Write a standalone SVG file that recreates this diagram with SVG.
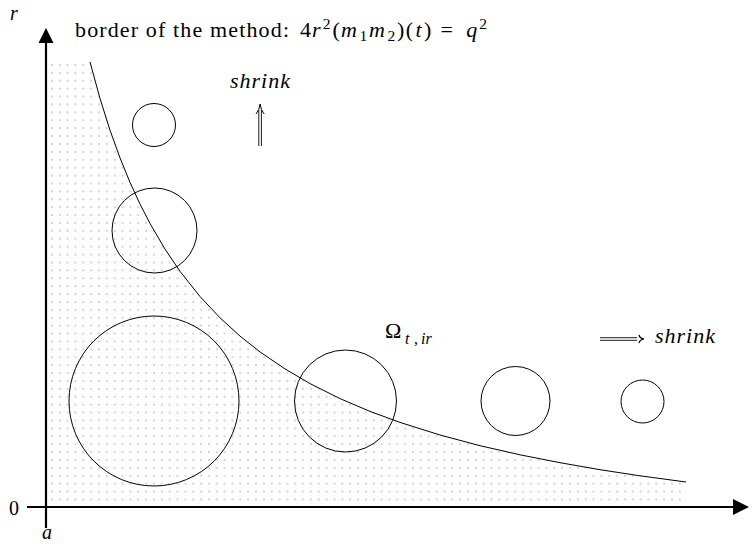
<svg xmlns="http://www.w3.org/2000/svg" width="756" height="544" viewBox="0 0 756 544">
<style>
.t{font-family:"Liberation Serif","Times New Roman",serif;fill:#000}
.i{font-style:italic}
.m{font-size:22px}
.s{font-size:15.5px}
.c{fill:none;stroke:#000;stroke-width:1}
.ax{stroke:#000;stroke-width:2.2;fill:none}
</style>
<defs>
<pattern id="dots" patternUnits="userSpaceOnUse" x="48" y="61" width="7.85" height="7.9">
<circle cx="3.9" cy="3.9" r="1" fill="#c8c8c8"/>
</pattern>
</defs>
<rect width="756" height="544" fill="#fff"/>
<g id="region">
<path fill="url(#dots)" d="M49,61 L90,62 L100,98.5 L110,130.2 L120,157.9 L130,182.4 L140,204.1 L150,223.5 L165,249.1 L180,271.3 L200,296.5 L220,317.8 L240,336.1 L260,351.9 L285,368.9 L310,383.6 L340,398.6 L370,411.4 L400,422.4 L440,435 L480,445.7 L520,454.8 L560,462.7 L600,469.7 L640,475.8 L686,482 L686,504 L49,504 Z"/>
</g>
<g id="connectors">
<path id="border" class="c" stroke-linejoin="round" d="M90,62 L100,98.5 L110,130.2 L120,157.9 L130,182.4 L140,204.1 L150,223.5 L165,249.1 L180,271.3 L200,296.5 L220,317.8 L240,336.1 L260,351.9 L285,368.9 L310,383.6 L340,398.6 L370,411.4 L400,422.4 L440,435 L480,445.7 L520,454.8 L560,462.7 L600,469.7 L640,475.8 L686,482"/>
</g>
<g id="axes">
<line class="ax" x1="46" y1="528" x2="46" y2="42"/>
<polygon points="46,28 38.5,43 53.5,43" fill="#000"/>
<line class="ax" x1="27" y1="507" x2="734" y2="507"/>
<polygon points="749,507 733,499 733,515" fill="#000"/>
</g>
<g id="circles">
<circle id="c1" class="c" cx="154" cy="125" r="21.5"/>
<circle id="c2" class="c" cx="154.5" cy="230.5" r="42.5"/>
<circle id="c3" class="c" cx="154" cy="401" r="85"/>
<circle id="c4" class="c" cx="345.5" cy="401" r="51"/>
<circle id="c5" class="c" cx="515.5" cy="401" r="34.5"/>
<circle id="c6" class="c" cx="642.5" cy="401.5" r="21.5"/>
</g>
<g id="arrow-up">
<line x1="258.8" y1="146" x2="258.8" y2="110" stroke="#000" stroke-width="0.9"/>
<line x1="261.4" y1="146" x2="261.4" y2="110" stroke="#000" stroke-width="0.9"/>
<path d="M256,114 Q259.5,110 260.1,104 Q260.7,110 264.2,114" fill="none" stroke="#000" stroke-width="1"/>
</g>
<g id="arrow-right">
<line x1="600" y1="337.7" x2="637" y2="337.7" stroke="#000" stroke-width="0.9"/>
<line x1="600" y1="340.3" x2="637" y2="340.3" stroke="#000" stroke-width="0.9"/>
<path d="M639,335 Q639.8,338.4 644,339 Q639.8,339.6 639,343" fill="none" stroke="#000" stroke-width="1.2"/>
</g>
<g id="labels">
<text class="t i" x="10" y="20" font-size="20">r</text>
<text class="t" x="9" y="515" font-size="20">0</text>
<text class="t i" x="42" y="539" font-size="20">a</text>
<text class="t m" x="75" y="37" textLength="214" lengthAdjust="spacing">border of the method:</text>
<g id="formula" class="t">
<text class="m" x="300" y="37">4</text>
<text class="m i" x="312" y="37">r</text>
<text class="s" x="322.7" y="29">2</text>
<text class="m" x="332.4" y="37">(</text>
<text class="m i" x="341" y="37">m</text>
<text class="s" x="359.4" y="40.5">1</text>
<text class="m i" x="369" y="37">m</text>
<text class="s" x="387.4" y="40.5">2</text>
<text class="m" x="397" y="37">)</text>
<text class="m" x="405.8" y="37">(</text>
<text class="m i" x="415.5" y="37">t</text>
<text class="m" x="424" y="37">)</text>
<text class="m" x="440.4" y="37">=</text>
<text class="m i" x="466.3" y="37">q</text>
<text class="s" x="479.3" y="29">2</text>
</g>
<text class="t i m" x="230" y="88" textLength="60" lengthAdjust="spacing">shrink</text>
<text class="t i m" x="655" y="343" textLength="60" lengthAdjust="spacing">shrink</text>
<text class="t m" x="385" y="338">Ω</text>
<text class="t i" x="405" y="344" font-size="16">t</text>
<text class="t" x="414" y="344" font-size="16">,</text>
<text class="t i" x="421" y="344" font-size="16">ir</text>
</g>
</svg>
